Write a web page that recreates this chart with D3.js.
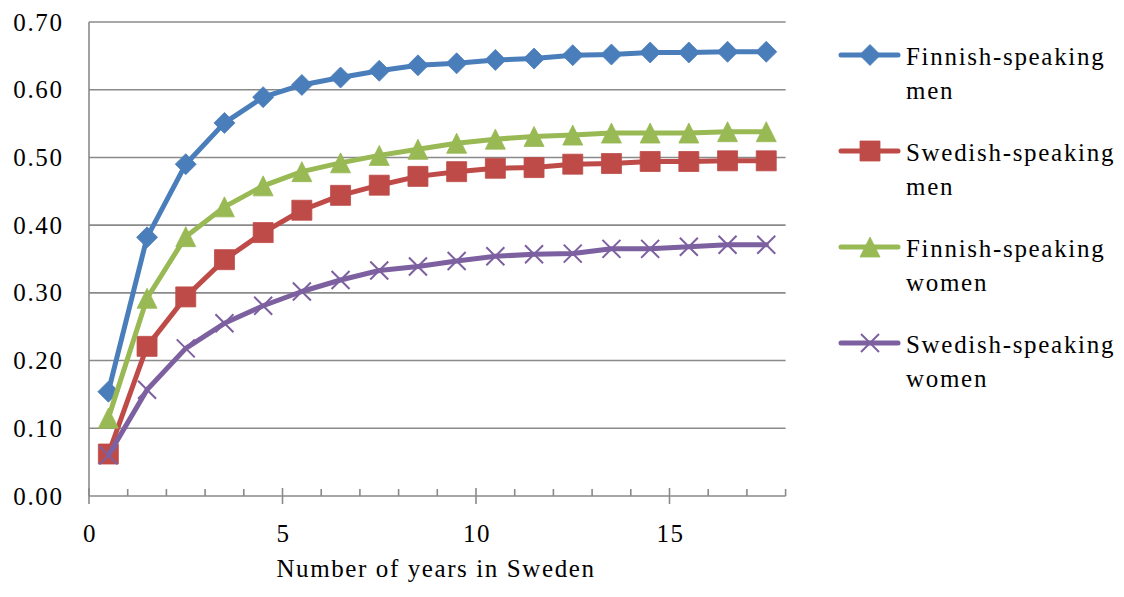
<!DOCTYPE html>
<html>
<head>
<meta charset="utf-8">
<script src="https://cdn.jsdelivr.net/npm/d3@7"></script>
<style>
  html, body { margin: 0; padding: 0; background: #fff; }
  svg { display: block; }
  text { font-family: "Liberation Serif", "Times New Roman", serif; fill: #000; }
</style>
</head>
<body>
<svg id="chart" width="1124" height="597"></svg>
<script>
const years = [0.5,1.5,2.5,3.5,4.5,5.5,6.5,7.5,8.5,9.5,10.5,11.5,12.5,13.5,14.5,15.5,16.5,17.5];
const finnishMen    = [0.154,0.382,0.490,0.551,0.589,0.607,0.618,0.628,0.636,0.639,0.644,0.646,0.651,0.652,0.655,0.655,0.656,0.656];
const swedishMen    = [0.062,0.221,0.294,0.349,0.389,0.422,0.444,0.459,0.472,0.479,0.484,0.485,0.490,0.491,0.494,0.494,0.495,0.495];
const finnishWomen  = [0.115,0.292,0.383,0.427,0.458,0.479,0.492,0.503,0.512,0.521,0.527,0.531,0.533,0.536,0.536,0.536,0.538,0.538];
const swedishWomen  = [0.060,0.157,0.218,0.255,0.281,0.302,0.319,0.333,0.339,0.347,0.354,0.357,0.358,0.365,0.365,0.368,0.371,0.371];
const seriesNames = ["Finnish-speaking men","Swedish-speaking men","Finnish-speaking women","Swedish-speaking women"];
const legendLines = [["Finnish-speaking","men"],["Swedish-speaking","men"],["Finnish-speaking","women"],["Swedish-speaking","women"]];
const yTicks = [0,0.1,0.2,0.3,0.4,0.5,0.6,0.7];
const xTicks = [0,5,10,15];
const xTitle = "Number of years in Sweden";

const colors = ["#4A7EBB","#BE4B48","#98B954","#7D60A0"];
const markers = ["diamond","square","triangle","x"];
const seriesValues = [finnishMen, swedishMen, finnishWomen, swedishWomen];

const svg = d3.select("#chart");
const plotLeft = 89, plotRight = 785.6, plotTop = 22, plotBottom = 496;
const x = d3.scaleLinear().domain([0,18]).range([plotLeft,plotRight]);
const y = d3.scaleLinear().domain([0,0.7]).range([plotBottom,plotTop]);
const gridColor = "#8a8a8a";

// gridlines
svg.append("g").selectAll("line").data(yTicks.filter(d => d > 0)).join("line")
  .attr("x1", plotLeft).attr("x2", plotRight)
  .attr("y1", d => y(d)).attr("y2", d => y(d))
  .attr("stroke", gridColor).attr("stroke-width", 1.6);

// y axis
svg.append("line").attr("x1", plotLeft).attr("x2", plotLeft).attr("y1", plotTop).attr("y2", plotBottom)
  .attr("stroke", gridColor).attr("stroke-width", 1.6);
svg.append("g").selectAll("text").data(yTicks).join("text")
  .attr("x", 63.5).attr("y", d => y(d) + 8.5)
  .attr("text-anchor", "end")
  .style("font-size", "25px").style("letter-spacing", "1.6px")
  .text(d => d3.format(".2f")(d));

// x axis
svg.append("line").attr("x1", plotLeft).attr("x2", plotRight).attr("y1", plotBottom).attr("y2", plotBottom)
  .attr("stroke", gridColor).attr("stroke-width", 1.6);
const minor = d3.range(1,19).filter(d => d % 5 !== 0);
svg.append("g").selectAll("line").data(minor).join("line")
  .attr("x1", d => x(d)).attr("x2", d => x(d))
  .attr("y1", plotBottom).attr("y2", plotBottom - 7)
  .attr("stroke", gridColor).attr("stroke-width", 1.6);
svg.append("g").selectAll("line").data(xTicks).join("line")
  .attr("x1", d => x(d)).attr("x2", d => x(d))
  .attr("y1", plotBottom - 8).attr("y2", plotBottom + 8)
  .attr("stroke", gridColor).attr("stroke-width", 1.6);
svg.append("g").selectAll("text").data(xTicks).join("text")
  .attr("x", d => x(d) + 1).attr("y", 542)
  .attr("text-anchor", "middle")
  .style("font-size", "25px").style("letter-spacing", "1.5px")
  .text(d => d);
svg.append("text").attr("x", 436).attr("y", 577).attr("text-anchor", "middle")
  .style("font-size", "25px").style("letter-spacing", "1.6px")
  .text(xTitle);

function markerPath(type) {
  const p = d3.path();
  if (type === "diamond") {
    const r = 10.5;
    p.moveTo(0,-r); p.lineTo(r,0); p.lineTo(0,r); p.lineTo(-r,0); p.closePath();
  } else if (type === "square") {
    const r = 10;
    p.rect(-r,-r,2*r,2*r);
  } else if (type === "triangle") {
    const r = 10;
    p.moveTo(0,-r); p.lineTo(r,r); p.lineTo(-r,r); p.closePath();
  } else {
    const r = 9;
    p.moveTo(-r,-r); p.lineTo(r,r); p.moveTo(r,-r); p.lineTo(-r,r);
  }
  return p.toString();
}
function drawMarker(g, type, color, cx, cy) {
  const m = g.append("path").attr("d", markerPath(type))
    .attr("transform", `translate(${cx},${cy})`);
  if (type === "x") m.attr("fill", "none").attr("stroke", color).attr("stroke-width", 2);
  else m.attr("fill", color).attr("stroke", color).attr("stroke-width", 0.8);
}

const line = d3.line().x(d => x(d[0])).y(d => y(d[1]));
seriesValues.forEach((vals, i) => {
  const g = svg.append("g");
  const pts = years.map((yr, j) => [yr, vals[j]]);
  g.append("path").datum(pts).attr("d", line)
    .attr("fill", "none").attr("stroke", colors[i]).attr("stroke-width", 5)
    .attr("stroke-linejoin", "round").attr("stroke-linecap", "round");
  pts.forEach(p => drawMarker(g, markers[i], colors[i], x(p[0]), y(p[1])));
});

// legend
legendLines.forEach((lines, i) => {
  const base = 65 + i * 96;
  const g = svg.append("g");
  g.append("line").attr("x1", 841).attr("x2", 898).attr("y1", base - 10).attr("y2", base - 10)
    .attr("stroke", colors[i]).attr("stroke-width", 5).attr("stroke-linecap", "round");
  drawMarker(g, markers[i], colors[i], 870, base - 10);
  g.append("text").attr("x", 906).attr("y", base)
    .style("font-size", "25px").style("letter-spacing", "1.7px").text(lines[0]);
  g.append("text").attr("x", 906).attr("y", base + 34)
    .style("font-size", "25px").style("letter-spacing", "1.7px").text(lines[1]);
});
</script>
</body>
</html>
